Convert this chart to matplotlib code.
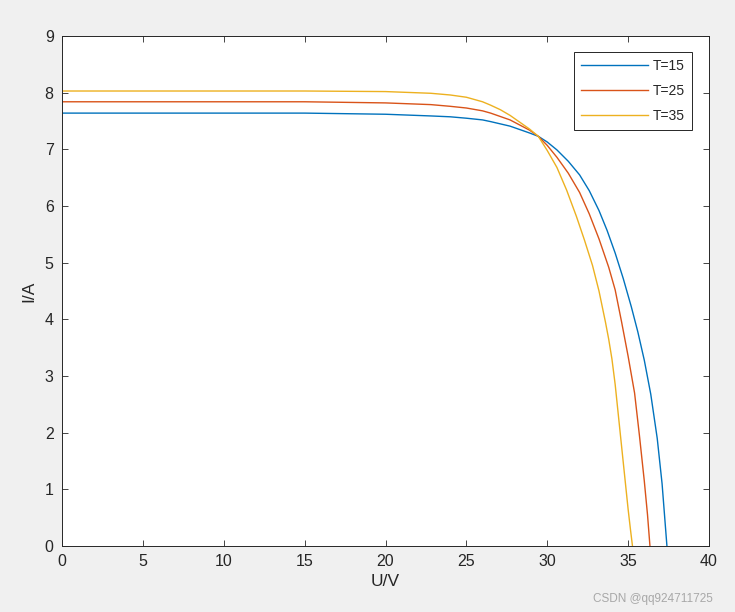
"""
I-V curves of a PV module at three temperatures (MATLAB-style figure).
"""

import matplotlib.pyplot as plt

# Points: voltage U/V and current I/A
u_t15 = [0, 10, 15, 20, 22.8, 24.0, 25.0, 26.0, 26.5, 27.1, 27.7, 28.3, 28.9, 29.45, 30.0,
         30.6, 31.3, 32.0, 32.6, 33.2, 33.7, 34.2, 34.7, 35.2, 35.6, 36.0, 36.4, 36.8, 37.1, 37.4]
i_t15 = [7.64, 7.64, 7.64, 7.62, 7.59, 7.575, 7.55, 7.52, 7.49, 7.45, 7.41, 7.35, 7.29, 7.23, 7.13,
         6.99, 6.79, 6.55, 6.27, 5.92, 5.57, 5.17, 4.72, 4.22, 3.78, 3.28, 2.68, 1.90, 1.10, 0.0]

u_t25 = [0, 10, 15, 20, 22.8, 24.0, 25.0, 26.0, 26.5, 27.1, 27.7, 28.3, 28.9, 29.45, 30.0,
         30.6, 31.3, 32.0, 32.6, 33.2, 33.8, 34.2, 34.6, 35.0, 35.4, 35.7, 36.0, 36.2, 36.35]
i_t25 = [7.84, 7.84, 7.84, 7.82, 7.79, 7.76, 7.73, 7.68, 7.64, 7.58, 7.52, 7.43, 7.34, 7.23, 7.07,
         6.86, 6.58, 6.24, 5.86, 5.42, 4.92, 4.52, 3.95, 3.35, 2.70, 1.95, 1.15, 0.55, 0.0]

u_t35 = [0, 10, 15, 20, 22.8, 24.0, 25.0, 26.0, 26.5, 27.1, 27.7, 28.3, 28.9, 29.45, 30.0,
         30.6, 31.2, 31.8, 32.3, 32.8, 33.2, 33.6, 33.8, 34.0, 34.2, 34.4, 34.6, 34.8, 35.0,
         35.15, 35.27]
i_t35 = [8.03, 8.03, 8.03, 8.02, 7.99, 7.96, 7.92, 7.84, 7.78, 7.70, 7.60, 7.48, 7.36, 7.23, 6.98,
         6.68, 6.28, 5.82, 5.40, 4.95, 4.50, 3.95, 3.65, 3.30, 2.85, 2.30, 1.75, 1.20, 0.65,
         0.28, 0.0]

labels = ["T=15", "T=25", "T=35"]
colors = ["#0072BD", "#D95319", "#EDB120"]

x_ticks = [0, 5, 10, 15, 20, 25, 30, 35, 40]
y_ticks = [0, 1, 2, 3, 4, 5, 6, 7, 8, 9]

text_color = "#262626"
plt.rcParams["font.family"] = ["Liberation Sans", "DejaVu Sans"]

fig = plt.figure(figsize=(7.35, 6.12), dpi=100, facecolor="#F0F0F0")
ax = fig.add_axes([0.0844, 0.1078, 0.8802, 0.8333])
ax.set_facecolor("white")

for u, i, lab, col in zip([u_t15, u_t25, u_t35], [i_t15, i_t25, i_t35], labels, colors):
    ax.plot(u, i, color=col, linewidth=1.0, label=lab)

ax.set_xlim(0, 40)
ax.set_ylim(0, 9)
ax.set_xticks(x_ticks)
ax.set_yticks(y_ticks)
ax.tick_params(direction="in", top=True, right=True, length=4, width=0.6,
               labelsize=11.5, colors=text_color, pad=6)
for spine in ax.spines.values():
    spine.set_color(text_color)
    spine.set_linewidth(0.7)

ax.set_xlabel("U/V", fontsize=12.5, color=text_color, labelpad=3)
ax.set_ylabel("I/A", fontsize=12.5, color=text_color, labelpad=6)

leg = ax.legend(loc="upper right", bbox_to_anchor=(0.974, 0.969), borderaxespad=0,
                fancybox=False, framealpha=1, edgecolor=text_color, fontsize=10,
                handlelength=4.8, handletextpad=0.4, labelspacing=0.8,
                borderpad=0.5)
leg.get_frame().set_linewidth(0.7)
for t in leg.get_texts():
    t.set_color(text_color)

fig.text(0.970, 0.012, "CSDN @qq924711725", ha="right", va="bottom",
         fontsize=8.5, color="#a8a8a8")

fig.savefig("out.png", dpi=100, facecolor=fig.get_facecolor())
